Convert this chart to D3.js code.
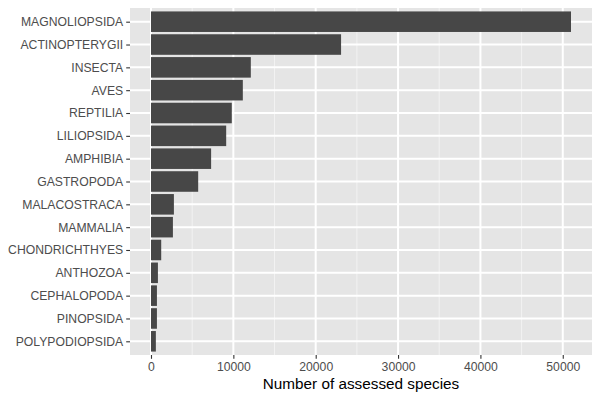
<!DOCTYPE html>
<html>
<head>
<meta charset="utf-8">
<script src="https://cdn.jsdelivr.net/npm/d3@7"></script>
<style>
  body { margin: 0; background: #fff; }
  text { font-family: "Liberation Sans", Arial, sans-serif; }
</style>
</head>
<body>
<svg id="chart"></svg>
<script>
// classes, largest first
const classes = ["MAGNOLIOPSIDA", "ACTINOPTERYGII", "INSECTA", "AVES", "REPTILIA",
  "LILIOPSIDA", "AMPHIBIA", "GASTROPODA", "MALACOSTRACA", "MAMMALIA",
  "CHONDRICHTHYES", "ANTHOZOA", "CEPHALOPODA", "PINOPSIDA", "POLYPODIOPSIDA"];
const species = [51000, 23080, 12120, 11150, 9810,
  9130, 7300, 5730, 2780, 2660,
  1240, 840, 720, 720, 590];
const xticks = [0, 10000, 20000, 30000, 40000, 50000];
const xminor = [5000, 15000, 25000, 35000, 45000];

const width = 600, height = 400;
const margin = {top: 8, right: 8, bottom: 45, left: 130};
const innerW = width - margin.left - margin.right;
const innerH = height - margin.top - margin.bottom;

const svg = d3.select("#chart")
    .attr("width", width)
    .attr("height", height);

const chart = svg.append("g")
    .attr("transform", `translate(${margin.left}, ${margin.top})`);

// ggplot-like 5% expansion
const xmax = d3.max(species);
const pad = xmax * 0.05;
const xscale = d3.scaleLinear()
    .domain([-pad, xmax + pad])
    .range([0, innerW]);

// discrete axis with 0.6 unit padding on each end
const step = innerH / (classes.length - 1 + 1.2);
const yscale = d3.scalePoint()
    .domain(classes)
    .range([0.6 * step, innerH - 0.6 * step]);
const barH = step * 0.9;

// panel
chart.append("rect")
    .attr("width", innerW)
    .attr("height", innerH)
    .attr("fill", "#E5E5E5");

// minor grid
chart.selectAll(".minor")
    .data(xminor)
    .enter().append("line")
    .attr("x1", d => xscale(d)).attr("x2", d => xscale(d))
    .attr("y1", 0).attr("y2", innerH)
    .attr("stroke", "#F2F2F2").attr("stroke-width", 1);

// major grid
chart.selectAll(".major-x")
    .data(xticks)
    .enter().append("line")
    .attr("x1", d => xscale(d)).attr("x2", d => xscale(d))
    .attr("y1", 0).attr("y2", innerH)
    .attr("stroke", "#fff").attr("stroke-width", 2);

chart.selectAll(".major-y")
    .data(classes)
    .enter().append("line")
    .attr("x1", 0).attr("x2", innerW)
    .attr("y1", d => yscale(d)).attr("y2", d => yscale(d))
    .attr("stroke", "#fff").attr("stroke-width", 2);

// bars
chart.selectAll(".bar")
    .data(classes)
    .enter().append("rect")
    .attr("x", xscale(0))
    .attr("y", d => yscale(d) - barH / 2)
    .attr("width", (d, i) => xscale(species[i]) - xscale(0))
    .attr("height", barH)
    .attr("fill", "#474747");

// axes
const xaxis = d3.axisBottom(xscale)
    .tickValues(xticks)
    .tickFormat(d3.format("d"))
    .tickSize(3.8)
    .tickPadding(4);
const yaxis = d3.axisLeft(yscale)
    .tickSize(3.8)
    .tickPadding(3);

const xg = chart.append("g")
    .attr("transform", `translate(0, ${innerH})`)
    .call(xaxis);
const yg = chart.append("g")
    .call(yaxis);

[xg, yg].forEach(g => {
    g.select(".domain").remove();
    g.selectAll(".tick line").attr("stroke", "#333333").attr("stroke-width", 1.1);
    g.selectAll(".tick text")
        .attr("fill", "#4D4D4D")
        .attr("font-size", "12.2px")
        .attr("font-family", "Liberation Sans, Arial, sans-serif");
});

// axis title
chart.append("text")
    .attr("x", innerW / 2)
    .attr("y", innerH + 34)
    .attr("text-anchor", "middle")
    .attr("font-size", "15.3px")
    .attr("fill", "black")
    .text("Number of assessed species");
</script>
</body>
</html>
